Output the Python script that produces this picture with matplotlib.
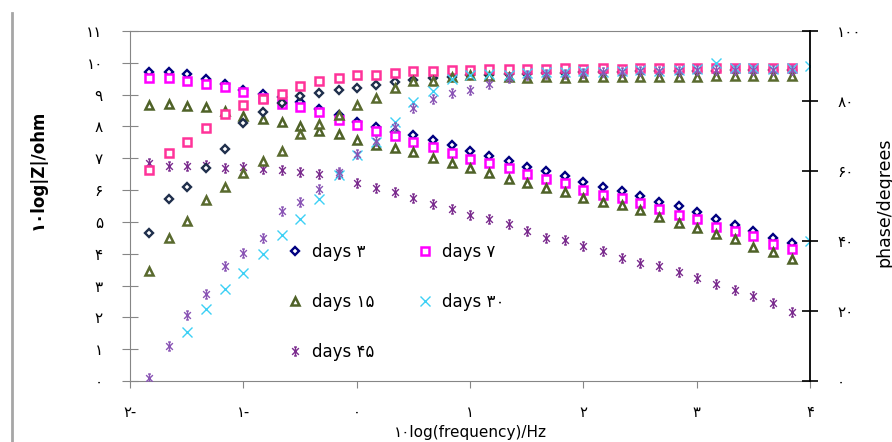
import matplotlib
matplotlib.use("Agg")
import matplotlib.pyplot as plt
from matplotlib.path import Path
from matplotlib.lines import Line2D

plt.rcParams['font.family'] = ['DejaVu Sans']

# log10 of frequency (Hz)
log_freq = [-1.83, -1.66, -1.50, -1.33, -1.16, -1.00, -0.83, -0.66, -0.50, -0.33,
            -0.16, 0.00, 0.17, 0.34, 0.50, 0.67, 0.84, 1.00, 1.17, 1.34,
            1.50, 1.67, 1.84, 2.00, 2.17, 2.34, 2.50, 2.67, 2.84, 3.00,
            3.17, 3.34, 3.50, 3.67, 3.84]

# 10*log|Z|
z_day3 = [9.72, 9.70, 9.65, 9.50, 9.35, 9.16, 9.03, 8.92, 8.78, 8.55,
          8.35, 8.14, 7.98, 7.84, 7.72, 7.58, 7.43, 7.22, 7.08, 6.90,
          6.74, 6.59, 6.43, 6.25, 6.09, 5.96, 5.80, 5.64, 5.49, 5.30,
          5.09, 4.91, 4.73, 4.51, 4.33]
z_day7 = [9.51, 9.51, 9.42, 9.35, 9.23, 9.07, 8.88, 8.72, 8.60, 8.44,
          8.20, 8.04, 7.85, 7.69, 7.52, 7.36, 7.17, 6.99, 6.86, 6.68,
          6.50, 6.36, 6.23, 6.00, 5.86, 5.74, 5.60, 5.42, 5.23, 5.08,
          4.84, 4.72, 4.55, 4.32, 4.16]
z_day15 = [8.66, 8.70, 8.63, 8.60, 8.49, 8.34, 8.24, 8.15, 8.00, 7.86,
           7.77, 7.58, 7.42, 7.32, 7.19, 7.00, 6.85, 6.69, 6.53, 6.34,
           6.22, 6.06, 5.93, 5.76, 5.64, 5.53, 5.38, 5.15, 4.98, 4.80,
           4.62, 4.47, 4.22, 4.07, 3.82]
z_day30_x = [4.0]
z_day30 = [4.39]
z_day45 = [6.84, 6.75, 6.75, 6.78, 6.70, 6.73, 6.65, 6.63, 6.57, 6.52,
           6.50, 6.23, 6.07, 5.94, 5.75, 5.55, 5.40, 5.22, 5.08, 4.92,
           4.72, 4.50, 4.42, 4.24, 4.08, 3.88, 3.70, 3.61, 3.43, 3.24,
           3.04, 2.87, 2.67, 2.45, 2.17]

# phase (degrees)
ph_day3 = [42.3, 51.9, 55.5, 61.0, 66.2, 73.6, 76.9, 79.3, 81.5, 82.2,
           83.1, 83.6, 84.6, 85.3, 86.0, 86.5, 87.0, 87.3, 87.5, 87.7,
           87.8, 88.0, 88.0, 88.2, 88.3, 88.4, 88.5, 88.6, 88.6, 88.7,
           88.7, 88.8, 88.8, 88.9, 88.9]
ph_day7 = [60.2, 65.1, 68.4, 72.2, 76.2, 78.9, 80.7, 81.9, 84.3, 85.8,
           86.5, 87.5, 87.4, 88.0, 88.5, 88.5, 88.9, 89.0, 89.1, 89.2,
           89.1, 89.2, 89.3, 89.2, 89.3, 89.2, 89.3, 89.4, 89.3, 89.4,
           89.4, 89.4, 89.5, 89.4, 89.5]
ph_day15 = [31.5, 40.9, 45.7, 51.6, 55.4, 59.5, 62.8, 65.7, 70.7, 73.4,
            75.9, 78.8, 81.0, 83.7, 85.6, 85.8, 86.9, 87.5, 87.2, 86.8,
            86.7, 86.8, 86.7, 86.8, 86.9, 86.8, 86.9, 87.0, 87.0, 87.0,
            87.1, 87.1, 87.1, 87.2, 87.1]
ph_day30_x = log_freq[2:] + [4.0]
ph_day30 = [14.0, 20.5, 26.2, 31.0, 36.4, 41.7, 46.4, 52.0,
            58.8, 64.5, 68.2, 74.1, 79.8, 82.8, 86.3, 87.4, 87.7, 87.4,
            88.0, 88.2, 88.4, 88.5, 88.4, 88.6, 88.8, 88.7, 88.9, 89.1,
            90.8, 89.3, 89.3, 89.2, 89.3, 90.0]
ph_day45 = [0.9, 9.9, 19.0, 24.8, 32.9, 36.7, 40.9, 48.5, 51.2, 54.8,
            59.8, 64.8, 68.5, 72.6, 77.9, 80.5, 82.2, 83.1, 84.8, 86.6,
            87.4, 87.6, 87.8, 88.0, 88.2, 88.3, 88.5, 88.6, 88.7, 88.8,
            88.8, 88.9, 88.9, 89.0, 89.0]

legend_labels = ['days ۳', 'days ۷', 'days ۱۵', 'days ۳۰', 'days ۴۵']
x_ticks = [-2, -1, 0, 1, 2, 3, 4]
x_tick_labels = ['۲-', '۱-', '۰', '۱', '۲', '۳', '۴']
z_ticks = list(range(12))
z_tick_labels = ['۰', '۱', '۲', '۳', '۴', '۵', '۶', '۷', '۸', '۹', '۱۰', '۱۱']
ph_ticks = [0, 20, 40, 60, 80, 100]
ph_tick_labels = ['۰', '۲۰', '۴۰', '۶۰', '۸۰', '۱۰۰']

# excel style star marker: an x with a vertical bar
star = Path([(0, -1), (0, 1), (-0.3, 1), (0.3, 1), (-0.3, -1), (0.3, -1),
             (-0.75, -0.75), (0.75, 0.75), (-0.75, 0.75), (0.75, -0.75)],
            [Path.MOVETO, Path.LINETO, Path.MOVETO, Path.LINETO,
             Path.MOVETO, Path.LINETO, Path.MOVETO, Path.LINETO,
             Path.MOVETO, Path.LINETO])

W, H = 892, 442
fig = plt.figure(figsize=(W / 100, H / 100), dpi=100)
ax = fig.add_axes([130 / W, 1 - 381 / H, 680 / W, 350 / H])
ax2 = ax.twinx()

grey = '#868686'
styles = {
    'd3': dict(marker='D', ms=4.3, mew=1.7, mfc='white'),
    'd7': dict(marker='s', ms=5.6, mew=1.8, mfc='white'),
    'd15': dict(marker='^', ms=5.8, mew=1.8, mfc='white'),
    'd30': dict(marker='x', ms=6.5, mew=1.0),
    'd45': dict(marker=star, ms=6.5, mew=1.0),
}

h3, = ax.plot(log_freq, z_day3, ls='none', mec='#000080', **styles['d3'])
h7, = ax.plot(log_freq, z_day7, ls='none', mec='#ff00ff', **styles['d7'])
h15, = ax.plot(log_freq, z_day15, ls='none', mec='#4f6228', **styles['d15'])
h30, = ax.plot(z_day30_x, z_day30, ls='none', color='#3dd0f5', **styles['d30'])
h45, = ax.plot(log_freq, z_day45, ls='none', color='#7b2c8e', **styles['d45'])

ax2.plot(log_freq, ph_day3, ls='none', mec='#1f2f4c', **styles['d3'])
ax2.plot(log_freq, ph_day7, ls='none', mec='#ff3399', **styles['d7'])
ax2.plot(log_freq, ph_day15, ls='none', mec='#596a2e', **styles['d15'])
ax2.plot(ph_day30_x, ph_day30, ls='none', color='#3dd0f5', **styles['d30'])
ax2.plot(log_freq, ph_day45, ls='none', color='#8a55b5', **styles['d45'])

ax.set_xlim(-2, 4)
ax.set_ylim(0, 11)
ax2.set_ylim(0, 100)

ax.set_xticks(x_ticks)
ax.set_xticklabels(x_tick_labels, fontsize=10.5)
ax.set_yticks(z_ticks)
ax.set_yticklabels(z_tick_labels, fontsize=11)
ax2.set_yticks(ph_ticks)
ax2.set_yticklabels(ph_tick_labels, fontsize=11)

for s in ['left', 'bottom', 'top']:
    ax.spines[s].set_color(grey)
ax.spines['right'].set_visible(False)
for s in ['left', 'bottom', 'top']:
    ax2.spines[s].set_visible(False)
ax2.spines['right'].set_color('black')
ax2.spines['right'].set_linewidth(1.3)

ax.tick_params(axis='y', direction='inout', length=11, color=grey, pad=14)
ax.tick_params(axis='x', direction='out', length=5, color=grey, pad=12)
ax2.tick_params(axis='y', direction='inout', length=11, color='black', width=1.2, pad=14)

fig.text(38 / W, 1 - 170 / H, '۱۰log|Z|/ohm', rotation=90, ha='center', va='center',
         fontsize=12, fontweight='bold')
fig.text(470 / W, 1 - 432 / H, '۱۰log(frequency)/Hz', ha='center', va='center',
         fontsize=11)
fig.text(884 / W, 1 - 202 / H, 'phase/degrees', rotation=90, ha='center', va='center',
         fontsize=12.5)

# outer grey rule on the left
fig.add_artist(Line2D([12 / W, 12 / W], [0, 1 - 13 / H], transform=fig.transFigure,
                      color='#a6a6a6', lw=2))

leg = ax2.legend([h3, h15, h45, h7, h30],
                 [legend_labels[0], legend_labels[2], legend_labels[4],
                  legend_labels[1], legend_labels[3]],
                 ncol=2, frameon=False, fontsize=12, loc='upper left',
                 bbox_to_anchor=(150 / 680, 1 - (236 - 31) / 350),
                 handlelength=1.0, handletextpad=0.5, labelspacing=1.92,
                 columnspacing=2.55, borderaxespad=0)

fig.savefig('out.png', dpi=100)
